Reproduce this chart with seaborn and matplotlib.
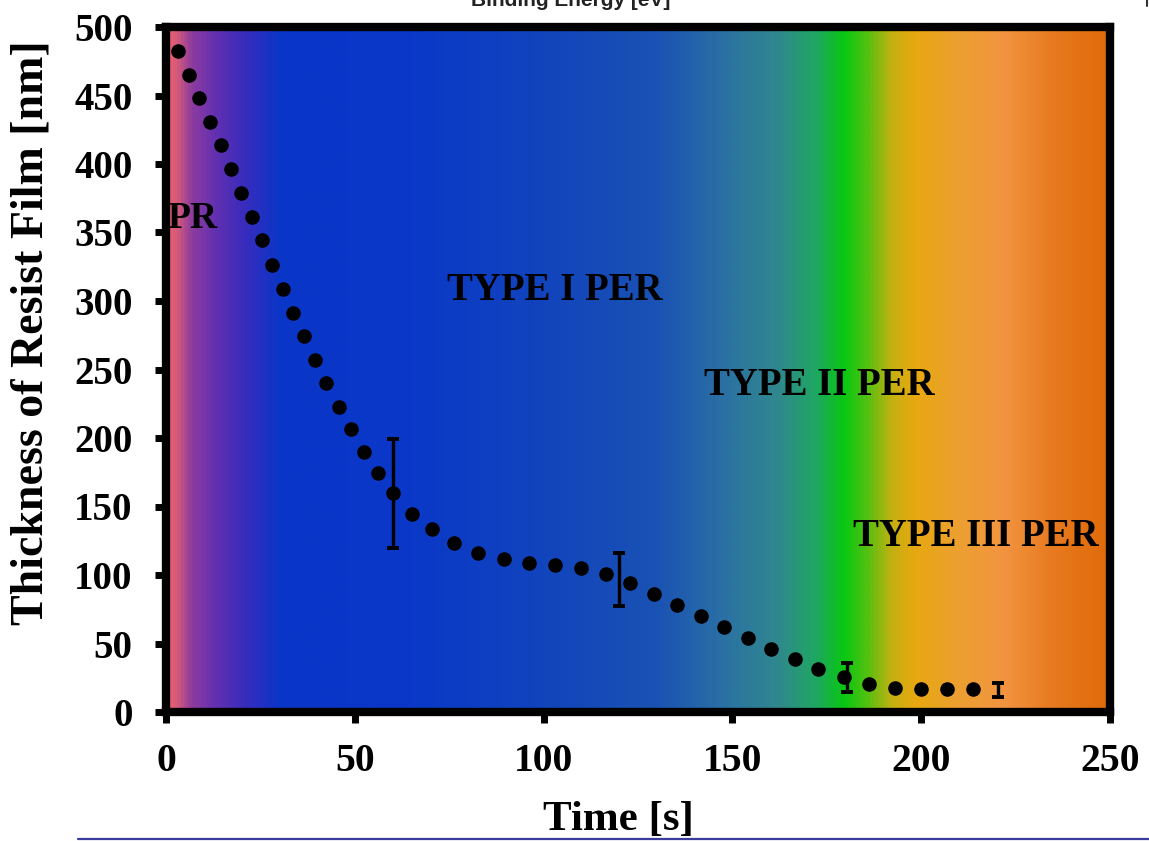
import numpy as np
import pandas as pd
import matplotlib
matplotlib.use('Agg')
import matplotlib.pyplot as plt
from matplotlib.colors import LinearSegmentedColormap
from matplotlib.lines import Line2D
import seaborn as sns

# Data
time_s = [3.3, 6.1, 8.8, 11.6, 14.5, 17.2, 19.9, 22.8, 25.5, 28.2,
          30.9, 33.6, 36.5, 39.5, 42.4, 45.7, 48.9, 52.4, 56.2, 60.2,
          65.1, 70.4, 76.3, 82.6, 89.4, 96.1, 103.0, 109.9, 116.5, 122.9,
          129.2, 135.4, 141.7, 147.9, 154.1, 160.3, 166.7, 172.7, 179.6, 186.2,
          193.1, 199.9, 206.8, 213.7]
thickness_nm = [482.7, 465.0, 448.0, 431.0, 413.7, 396.0, 379.0, 361.5, 344.4, 326.5,
                309.0, 291.5, 274.5, 257.0, 240.1, 222.8, 206.3, 190.0, 174.2, 159.5,
                144.8, 133.5, 123.3, 116.2, 111.8, 108.9, 107.2, 104.8, 100.5, 93.9,
                85.9, 78.1, 70.1, 61.8, 53.8, 46.0, 38.5, 31.2, 25.5, 20.4,
                17.5, 16.8, 16.8, 16.8]

err_time = [60, 120, 180.3, 220.3]
err_center = [159.5, 96.7, 25.2, 16.0]
err_size = [40.0, 19.3, 10.6, 5.0]

x_ticks = [0, 50, 100, 150, 200, 250]
y_ticks = [0, 50, 100, 150, 200, 250, 300, 350, 400, 450, 500]

region_labels = ['PR', 'TYPE I PER', 'TYPE II PER', 'TYPE III PER']

# background gradient stops (fraction of x range, colour)
grad_stops = [(0.0, '#e8606e'), (0.01, '#d65a7a'), (0.025, '#8e3c9e'),
              (0.05, '#6430b0'), (0.08, '#3a2cbc'), (0.12, '#0a36c8'),
              (0.26, '#0a38c8'), (0.40, '#1244bc'), (0.52, '#1a52b4'),
              (0.59, '#2a70a4'), (0.65, '#30888e'), (0.69, '#1ea860'),
              (0.72, '#08c810'), (0.745, '#58c010'), (0.77, '#c4b010'),
              (0.795, '#e8a810'), (0.84, '#eca030'), (0.89, '#f29440'),
              (0.94, '#e87a20'), (1.0, '#e06a08')]

df = pd.DataFrame({'time': time_s, 'thickness': thickness_nm})

sns.set_style('white')
plt.rcParams['font.family'] = ['Liberation Serif', 'DejaVu Serif']
plt.rcParams['font.weight'] = 'bold'
plt.rcParams['text.color'] = 'black'
plt.rcParams['axes.labelcolor'] = 'black'
plt.rcParams['xtick.color'] = 'black'
plt.rcParams['ytick.color'] = 'black'

fig = plt.figure(figsize=(11.49, 8.41), dpi=100)
ax = fig.add_axes([166 / 1149, 1 - 712 / 841, (1110 - 166) / 1149, (712 - 27) / 841])

cmap = LinearSegmentedColormap.from_list('bg', grad_stops)
grad = np.linspace(0, 1, 512).reshape(1, -1)
ax.imshow(grad, extent=[0, 250, 0, 500], aspect='auto', cmap=cmap,
          interpolation='bilinear', zorder=0)

# error bars
ax.errorbar(err_time, err_center, yerr=err_size, fmt='none', ecolor='black',
            elinewidth=2.4, capsize=4.5, capthick=2.8, zorder=3)

sns.scatterplot(data=df, x='time', y='thickness', ax=ax, color='black',
                s=110, linewidth=0, zorder=4)

# region labels
ax.text(0.3, 360, region_labels[0], ha='left', va='center', fontsize=27,
        fontweight='bold', color='black', zorder=1)
ax.text(103, 308, region_labels[1], ha='center', va='center', fontsize=28,
        fontweight='bold', color='black', zorder=2)
ax.text(173, 238, region_labels[2], ha='center', va='center', fontsize=28,
        fontweight='bold', color='black', zorder=2)
ax.text(214.5, 128, region_labels[3], ha='center', va='center', fontsize=28,
        fontweight='bold', color='black', zorder=2)

ax.set_xlim(0, 250)
ax.set_ylim(0, 500)
ax.set_xticks(x_ticks)
ax.set_yticks(y_ticks)
ax.set_xticklabels([str(t) for t in x_ticks], fontsize=28.5, fontweight='bold')
ax.set_yticklabels([str(t) for t in y_ticks], fontsize=28, fontweight='bold')
ax.tick_params(axis='both', direction='out', length=8, width=5, color='black',
               labelcolor='black', bottom=True, left=True, top=False, right=False)
ax.tick_params(axis='x', pad=14)
ax.tick_params(axis='y', pad=16)

for side in ['left', 'right', 'top', 'bottom']:
    ax.spines[side].set_visible(True)
    ax.spines[side].set_linewidth(6)
    ax.spines[side].set_color('black')
    ax.spines[side].set_zorder(5)

ax.set_xlabel('Time [s]', fontsize=31, fontweight='bold', va='baseline', color='black')
ax.xaxis.set_label_coords((618 - 166) / 944, (712 - 830) / 685)
ax.set_ylabel('Thickness of Resist Film [nm]', fontsize=33, fontweight='bold',
              va='center', ha='center', color='black')
ax.yaxis.set_label_coords((32 - 166) / 944, (712 - 333) / 685)

# cut-off title from the slide above and decoration lines
fig.text(571 / 1149, 1 - 6 / 841, 'Binding Energy [eV]', ha='center', va='baseline',
         fontsize=15, fontweight='bold', family='Liberation Sans', color='#222222')
fig.add_artist(Line2D([1146.5 / 1149, 1146.5 / 1149], [1, 1 - 6 / 841],
                      color='#333333', lw=1.5))
fig.add_artist(Line2D([78 / 1149, 1.0], [1 - 839 / 841, 1 - 839 / 841],
                      color='#3b3b9b', lw=1.6))

fig.savefig('out.png', dpi=100)
